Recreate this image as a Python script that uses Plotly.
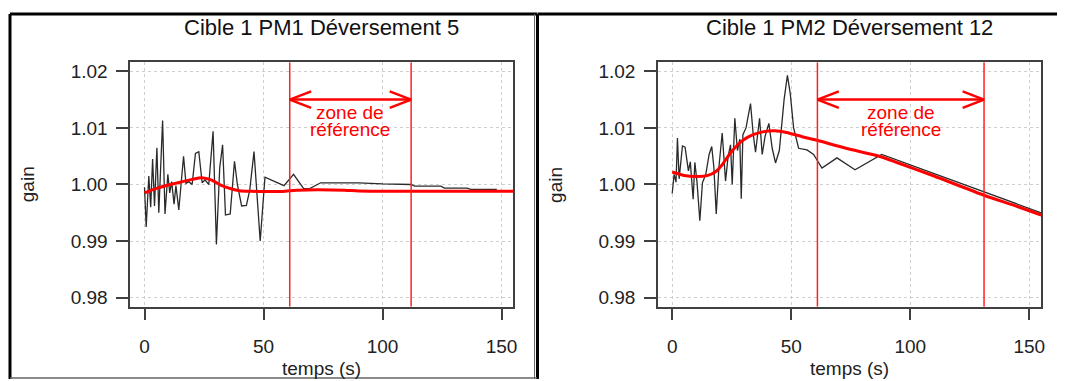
import plotly.graph_objects as go

# ---------------- data ----------------
titles = ["Cible 1 PM1 Déversement 5", "Cible 1 PM2 Déversement 12"]
x_ticks = [0, 50, 100, 150]
y_ticks = [0.98, 0.99, 1.00, 1.01, 1.02]
y_ticktext = ["0.98", "0.99", "1.00", "1.01", "1.02"]

# panel 1 : measured gain (black)
t1_raw = [0, 0.7, 1.8, 2.6, 3.4, 4.2, 5.2, 6.0, 7.6, 8.6, 9.8, 10.6, 11.4, 12.4, 13.2, 14.4,
          16.4, 17.4, 18.6, 20.0, 21.4, 22.8, 24.2, 25.4, 27.0, 28.8, 30.2, 31.6, 32.8, 34.0,
          36.0, 37.8, 39.0, 40.8, 42.8, 44.2, 46.0, 48.6, 50.6, 58.6, 62.6, 66.8, 69.0, 74.0,
          90.0, 100.0, 112.0, 113.5, 124.5, 126.0, 135.5, 137.0, 148.0]
g1_raw = [0.9995, 0.9925, 1.0015, 0.9960, 1.0045, 0.9962, 1.0065, 0.9950, 1.0113, 0.9948,
          1.0018, 0.9985, 1.0005, 0.9965, 0.9998, 0.9955, 1.0050, 1.0002, 1.0005, 1.0000,
          1.0055, 1.0058, 1.0003, 1.0008, 1.0000, 1.0094, 0.9894, 1.0030, 1.0070, 0.9946,
          0.9948, 1.0041, 1.0000, 0.9962, 0.9963, 0.9990, 1.0058, 0.9900, 1.0013, 0.9998,
          1.0018, 0.9993, 0.9992, 1.0003, 1.0003, 1.0001, 1.0000, 0.9997, 0.9997, 0.99935,
          0.99935, 0.99915, 0.99915]
# panel 1 : smoothed gain (red)
t1_fit = [0, 5, 10, 15, 20, 24, 28, 32, 36, 40, 45, 50, 58, 64, 84, 90, 120, 155]
g1_fit = [0.9985, 0.9993, 0.9999, 1.0004, 1.0009, 1.0012, 1.0008, 0.9999, 0.9993, 0.9989,
          0.9988, 0.99875, 0.99878, 0.9990, 0.9990, 0.99885, 0.9988, 0.9988]

# panel 2 : measured gain (black)
t2_raw = [0, 0.8, 1.6, 2.2, 2.9, 3.6, 4.3, 5.4, 6.2, 6.8, 7.6, 8.2, 8.8, 9.5, 10.4, 11.6,
          12.7, 14.1, 15.5, 16.6, 17.5, 18.5, 19.6, 21.0, 22.4, 23.5, 24.5, 25.2, 26.3, 27.4,
          28.4, 29.0, 29.7, 31.0, 32.9, 34.0, 35.0, 36.7, 37.8, 39.0, 40.6, 42.0, 43.4, 45.0,
          47.0, 48.4, 49.6, 51.0, 53.1, 56.6, 59.4, 62.9, 69.2, 76.8, 88.0, 155.0]
g2_raw = [0.9984, 1.0018, 1.0004, 1.0082, 1.0010, 1.0040, 1.0068, 1.0066, 1.0040, 1.0024,
          1.0040, 1.0000, 0.9974, 1.0039, 1.0005, 0.9936, 1.0003, 1.0018, 1.0053, 1.0067,
          1.0030, 0.9948, 1.0030, 1.0091, 1.0006, 1.0050, 1.0070, 1.0000, 1.0117, 1.0060,
          1.0080, 0.9975, 1.0088, 1.0100, 1.0143, 1.0090, 1.0057, 1.0117, 1.0053, 1.0085,
          1.0108, 1.0064, 1.0038, 1.0060, 1.0150, 1.0193, 1.0160, 1.0100, 1.0064, 1.0061,
          1.0053, 1.0029, 1.0047, 1.0026, 1.0053, 0.9950]
# panel 2 : smoothed gain (red)
t2_fit = [0, 5, 10, 15, 18, 21, 24, 27, 30, 34, 38, 43, 48, 55, 60, 73, 87, 95, 110, 131, 145, 155]
g2_fit = [1.0022, 1.0016, 1.0014, 1.0016, 1.0022, 1.0035, 1.0053, 1.0068, 1.0079, 1.0088,
          1.0093, 1.0095, 1.0092, 1.0084, 1.0079, 1.0064, 1.0050, 1.0038, 1.0015, 0.9981,
          0.9961, 0.9946]

# reference zones (s)
zones = [(61, 112), (61, 131)]
arrow_level = 1.015
zone_text = ["zone de", "référence"]

# ---------------- layout helpers ----------------
# the page body has an 8px margin: figure pixel = page pixel - 8
OFF = 8
W, H = 1065 - OFF, 381 - OFF
FONT = "Liberation Sans, Arial, sans-serif"
AX = "#404040"

def px_x(p):
    return (p - OFF) / W

def px_y(p):
    return 1 - (p - OFF) / H

x_domains = [[px_x(130.7), px_x(515.4)], [px_x(660.4), px_x(1045.1)]]
y_domain = [px_y(308.1), px_y(61.7)]
x_range = [-6, 155]
y_range = [0.9784, 1.0216]

fig = go.Figure()

series = [(t1_raw, g1_raw, t1_fit, g1_fit), (t2_raw, g2_raw, t2_fit, g2_fit)]
for i, (tr, gr, tf, gf) in enumerate(series):
    xa = "x" if i == 0 else "x2"
    ya = "y" if i == 0 else "y2"
    fig.add_trace(go.Scatter(x=tr, y=gr, mode="lines", xaxis=xa, yaxis=ya,
                             line=dict(color="#2a2a2a", width=1.3), showlegend=False,
                             hoverinfo="skip"))
    fig.add_trace(go.Scatter(x=tf, y=gf, mode="lines", xaxis=xa, yaxis=ya,
                             line=dict(color="#ff0000", width=3, shape="spline", smoothing=0.7),
                             showlegend=False, hoverinfo="skip"))

shapes = []
annotations = []
for i, (z0, z1) in enumerate(zones):
    xr = "x" if i == 0 else "x2"
    yr = "y" if i == 0 else "y2"
    for zx in (z0, z1):
        shapes.append(dict(type="line", xref=xr, yref=yr, x0=zx, x1=zx,
                           y0=y_range[0], y1=y_range[1],
                           line=dict(color="#ff2020", width=1.5), layer="above"))
    # arrow shaft
    shapes.append(dict(type="line", xref=xr, yref=yr, x0=z0, x1=z1, y0=arrow_level, y1=arrow_level,
                       line=dict(color="#ff0000", width=2.5)))
    # chevron heads
    dx, dy = 9.0, 0.00145
    for tip, sgn in ((z0, 1), (z1, -1)):
        for s in (1, -1):
            shapes.append(dict(type="line", xref=xr, yref=yr, x0=tip, y0=arrow_level,
                               x1=tip + sgn * dx, y1=arrow_level + s * dy,
                               line=dict(color="#ff0000", width=2.5)))
    mid = (z0 + z1) / 2
    annotations.append(dict(xref=xr, yref=yr, x=mid, y=1.0127, text=zone_text[0],
                            showarrow=False, font=dict(family=FONT, size=19, color="#ff0000")))
    annotations.append(dict(xref=xr, yref=yr, x=mid, y=1.0098, text=zone_text[1],
                            showarrow=False, font=dict(family=FONT, size=19, color="#ff0000")))

    # titles & axis titles
    xc = (x_domains[i][0] + x_domains[i][1]) / 2
    annotations.append(dict(xref="paper", yref="paper", x=xc, y=px_y(27), text=titles[i],
                            showarrow=False, xanchor="center", yanchor="middle",
                            font=dict(family=FONT, size=22, color="#111111")))
    annotations.append(dict(xref="paper", yref="paper", x=xc, y=px_y(370), text="temps (s)",
                            showarrow=False, xanchor="center", yanchor="middle",
                            font=dict(family=FONT, size=19, color="#222222")))
    annotations.append(dict(xref="paper", yref="paper", x=x_domains[i][0] - 103 / W,
                            y=px_y(185), text="gain", textangle=-90,
                            showarrow=False, xanchor="center", yanchor="middle",
                            font=dict(family=FONT, size=19, color="#222222")))

# panel frames
frame = dict(color="#000000", width=3)
shapes += [
    dict(type="line", xref="paper", yref="paper", x0=px_x(10), x1=px_x(539), y0=px_y(13), y1=px_y(13), line=frame),
    dict(type="line", xref="paper", yref="paper", x0=px_x(10), x1=px_x(10), y0=px_y(13), y1=0, line=frame),
    dict(type="line", xref="paper", yref="paper", x0=px_x(536.5), x1=px_x(536.5), y0=px_y(13), y1=0,
         line=dict(color="#666666", width=1)),
    dict(type="line", xref="paper", yref="paper", x0=px_x(539.5), x1=px_x(539.5), y0=px_y(13), y1=0, line=frame),
    dict(type="line", xref="paper", yref="paper", x0=px_x(539.5), x1=1, y0=px_y(13), y1=px_y(13), line=frame),
    dict(type="line", xref="paper", yref="paper", x0=px_x(10), x1=px_x(539), y0=px_y(380), y1=px_y(380),
         line=dict(color="#666666", width=1.5)),
]

def xaxis(dom, anchor):
    return dict(domain=dom, range=x_range, anchor=anchor, tickvals=x_ticks,
                ticktext=[str(v) for v in x_ticks], ticks="outside", ticklen=12, tickwidth=1.5,
                tickcolor=AX, showline=True, linecolor=AX, linewidth=1.5, mirror=True,
                showgrid=True, gridcolor="#cfcfcf", griddash="dot", gridwidth=1,
                zeroline=False, ticklabelstandoff=10,
                tickfont=dict(family=FONT, size=19, color="#222222"))

def yaxis(anchor):
    return dict(domain=y_domain, range=y_range, anchor=anchor, tickvals=y_ticks,
                ticktext=y_ticktext, ticks="outside", ticklen=12, tickwidth=1.5,
                tickcolor=AX, showline=True, linecolor=AX, linewidth=1.5, mirror=True,
                showgrid=True, gridcolor="#cfcfcf", griddash="dot", gridwidth=1,
                zeroline=False, ticklabelstandoff=5,
                tickfont=dict(family=FONT, size=19, color="#222222"))

fig.update_layout(
    width=W, height=H, autosize=False,
    margin=dict(l=0, r=0, t=0, b=0),
    paper_bgcolor="white", plot_bgcolor="white",
    xaxis=xaxis(x_domains[0], "y"), yaxis=yaxis("x"),
    xaxis2=xaxis(x_domains[1], "y2"), yaxis2=yaxis("x2"),
    shapes=shapes, annotations=annotations, showlegend=False,
)

fig.write_html("out.html")
